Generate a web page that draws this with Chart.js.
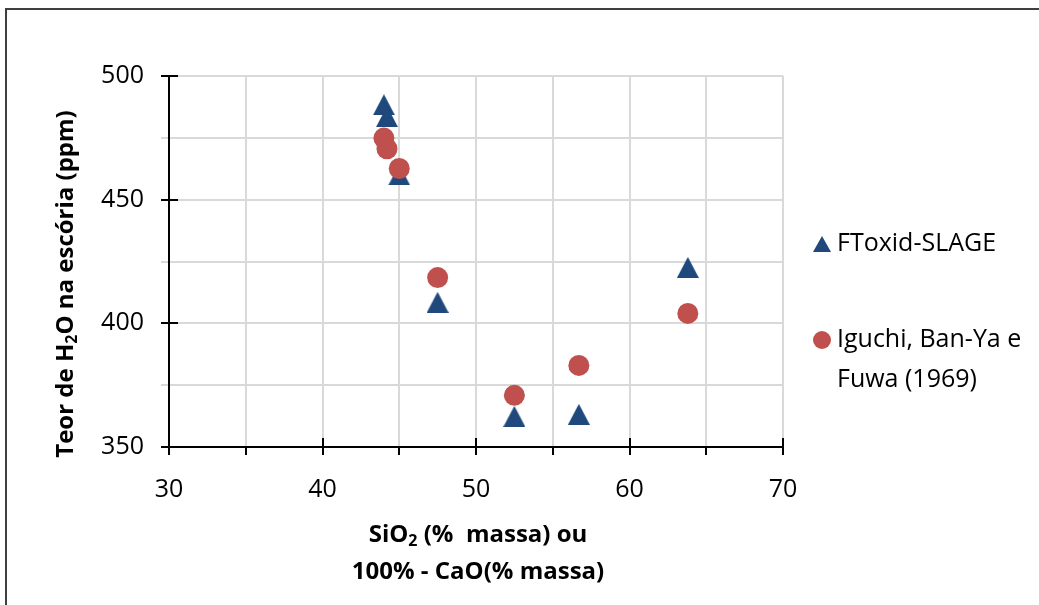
<!DOCTYPE html>
<html>
<head>
<meta charset="utf-8">
<title>Teor de H2O na escória</title>
<script src="https://cdn.jsdelivr.net/npm/chart.js@4/dist/chart.umd.min.js"></script>
<style>
  html, body { margin: 0; padding: 0; background: #fff; }
  #wrap { position: relative; width: 1039px; height: 605px; overflow: hidden; }
  #frame { position: absolute; left: 5px; top: 8px; width: 1100px; height: 700px;
           border: 2px solid #3f3f3f; box-sizing: border-box; }
  #chart { position: absolute; left: 0; top: 0; }
</style>
</head>
<body>
<div id="wrap">
  <div id="frame"></div>
  <canvas id="chart" width="1039" height="605"></canvas>
</div>
<script>
// SiO2 content (% massa) shared by both series
const silica = [44.0, 44.2, 45.0, 47.5, 52.5, 56.7, 63.8];
// H2O content in the slag (ppm)
const ftoxidValues = [488.4, 483.6, 460.0, 408.5, 362.4, 363.2, 422.6];
const iguchiValues = [474.9, 470.6, 462.6, 418.5, 370.9, 383.0, 404.0];

const seriesNames = ['FToxid-SLAGE', 'Iguchi, Ban-Ya e Fuwa (1969)'];
const legendLines = [['FToxid-SLAGE'], ['Iguchi, Ban-Ya e', 'Fuwa (1969)']];

// Axis ranges and tick spacing
const xRange = [30, 70];
const xGridStep = 5;
const xLabelStep = 10;
const yRange = [350, 500];
const yGridStep = 25;
const yLabelStep = 50;

// Axis titles; entries with sub:true are drawn as subscripts
const xTitleLines = [
  [{ t: 'SiO' }, { t: '2', sub: true }, { t: ' (%  massa) ou' }],
  [{ t: '100% - CaO(% massa)' }]
];
const yTitle = [{ t: 'Teor de H' }, { t: '2', sub: true }, { t: 'O na escória (ppm)' }];

const FONT = "'Open Sans', 'DejaVu Sans', sans-serif";
const TEXT_SIZE = 25;
const TITLE_SIZE = 24;
const BLUE = '#1F497D';
const RED = '#C0504D';
const GRID = '#D9D9D9';

function triangleMarker(w, h, color) {
  const c = document.createElement('canvas');
  c.width = w; c.height = h;
  const g = c.getContext('2d');
  g.fillStyle = color;
  g.beginPath();
  g.moveTo(w / 2, 0);
  g.lineTo(w, h);
  g.lineTo(0, h);
  g.closePath();
  g.fill();
  return c;
}
const triPoint = triangleMarker(22, 21, BLUE);
const triLegend = triangleMarker(18, 16, BLUE);

function richWidth(ctx, parts, size, weight) {
  let w = 0;
  for (const p of parts) {
    ctx.font = `${weight} ${p.sub ? Math.round(size * 0.65) : size}px ${FONT}`;
    w += ctx.measureText(p.t).width;
  }
  return w;
}
function drawRich(ctx, parts, cx, cy, size, weight) {
  const total = richWidth(ctx, parts, size, weight);
  let x = cx - total / 2;
  ctx.textAlign = 'left';
  ctx.textBaseline = 'middle';
  for (const p of parts) {
    const s = p.sub ? Math.round(size * 0.65) : size;
    ctx.font = `${weight} ${s}px ${FONT}`;
    ctx.fillText(p.t, x, p.sub ? cy + size * 0.28 : cy);
    x += ctx.measureText(p.t).width;
  }
}

const decorations = {
  id: 'decorations',
  afterDraw(chart) {
    const ctx = chart.ctx;
    const xs = chart.scales.x, ys = chart.scales.y;
    const area = chart.chartArea;
    ctx.save();

    // inner halves of the major tick marks (they cross the axis lines)
    ctx.strokeStyle = '#000';
    ctx.lineWidth = 2;
    ctx.beginPath();
    for (const t of xs.ticks) {
      if (t.value % xLabelStep === 0) {
        const px = Math.round(xs.getPixelForValue(t.value));
        ctx.moveTo(px, area.bottom);
        ctx.lineTo(px, area.bottom - 9);
      }
    }
    for (const t of ys.ticks) {
      if (t.value % yLabelStep === 0) {
        const py = Math.round(ys.getPixelForValue(t.value));
        ctx.moveTo(area.left, py);
        ctx.lineTo(area.left + 9, py);
      }
    }
    ctx.stroke();

    // axis titles
    ctx.fillStyle = '#000';
    drawRich(ctx, xTitleLines[0], 478, 535, TITLE_SIZE, 'bold');
    drawRich(ctx, xTitleLines[1], 478, 572, TITLE_SIZE, 'bold');
    ctx.save();
    ctx.translate(66, 284);
    ctx.rotate(-Math.PI / 2);
    drawRich(ctx, yTitle, 0, 0, TITLE_SIZE, 'bold');
    ctx.restore();

    // legend
    const markerX = 822, textX = 837;
    const entries = [
      { y: 244, draw: (y) => ctx.drawImage(triLegend, markerX - 9, y - 8) },
      { y: 340, draw: (y) => {
          ctx.fillStyle = chart.data.datasets[1].backgroundColor;
          ctx.beginPath(); ctx.arc(markerX, y, 9, 0, Math.PI * 2); ctx.fill();
        } }
    ];
    entries.forEach((e, i) => {
      e.draw(e.y);
      ctx.fillStyle = '#000';
      ctx.font = `${TEXT_SIZE}px ${FONT}`;
      ctx.textAlign = 'left';
      ctx.textBaseline = 'middle';
      legendLines[i].forEach((line, j) => ctx.fillText(line, textX, e.y + j * 40));
    });
    ctx.restore();
  }
};

const toPoints = (ys) => silica.map((x, i) => ({ x, y: ys[i] }));

new Chart(document.getElementById('chart'), {
  type: 'scatter',
  data: {
    datasets: [
      {
        label: seriesNames[0],
        data: toPoints(ftoxidValues),
        pointStyle: triPoint,
        backgroundColor: BLUE,
        borderColor: BLUE,
        pointRadius: 11,
        order: 2
      },
      {
        label: seriesNames[1],
        data: toPoints(iguchiValues),
        pointStyle: 'circle',
        backgroundColor: RED,
        borderColor: RED,
        borderWidth: 0,
        pointRadius: 10.5,
        order: 1
      }
    ]
  },
  options: {
    responsive: false,
    animation: false,
    devicePixelRatio: 1,
    layout: { padding: { top: 76, right: 256, bottom: 0, left: 0 } },
    plugins: { legend: { display: false }, tooltip: { enabled: false } },
    scales: {
      x: {
        type: 'linear',
        min: xRange[0], max: xRange[1],
        afterFit: (s) => { s.height = 158; },
        grid: {
          color: GRID, lineWidth: 2,
          drawTicks: true, tickLength: 8, tickWidth: 2, tickColor: '#000'
        },
        border: { display: true, color: '#000', width: 2 },
        ticks: {
          stepSize: xGridStep,
          color: '#000',
          padding: 20,
          font: { family: FONT, size: TEXT_SIZE },
          maxRotation: 0,
          autoSkip: false,
          callback: (v) => (v % xLabelStep === 0 ? String(v) : '')
        }
      },
      y: {
        type: 'linear',
        min: yRange[0], max: yRange[1],
        afterFit: (s) => { s.width = 169; },
        grid: {
          color: GRID, lineWidth: 2,
          drawTicks: true, tickLength: 8, tickWidth: 2,
          tickColor: (c) => (c.tick && c.tick.value % yLabelStep === 0 ? '#000' : GRID)
        },
        border: { display: true, color: '#000', width: 2 },
        ticks: {
          stepSize: yGridStep,
          color: '#000',
          padding: 17,
          font: { family: FONT, size: TEXT_SIZE },
          autoSkip: false,
          callback: (v) => (v % yLabelStep === 0 ? String(v) : '')
        }
      }
    }
  },
  plugins: [decorations]
});
</script>
</body>
</html>
